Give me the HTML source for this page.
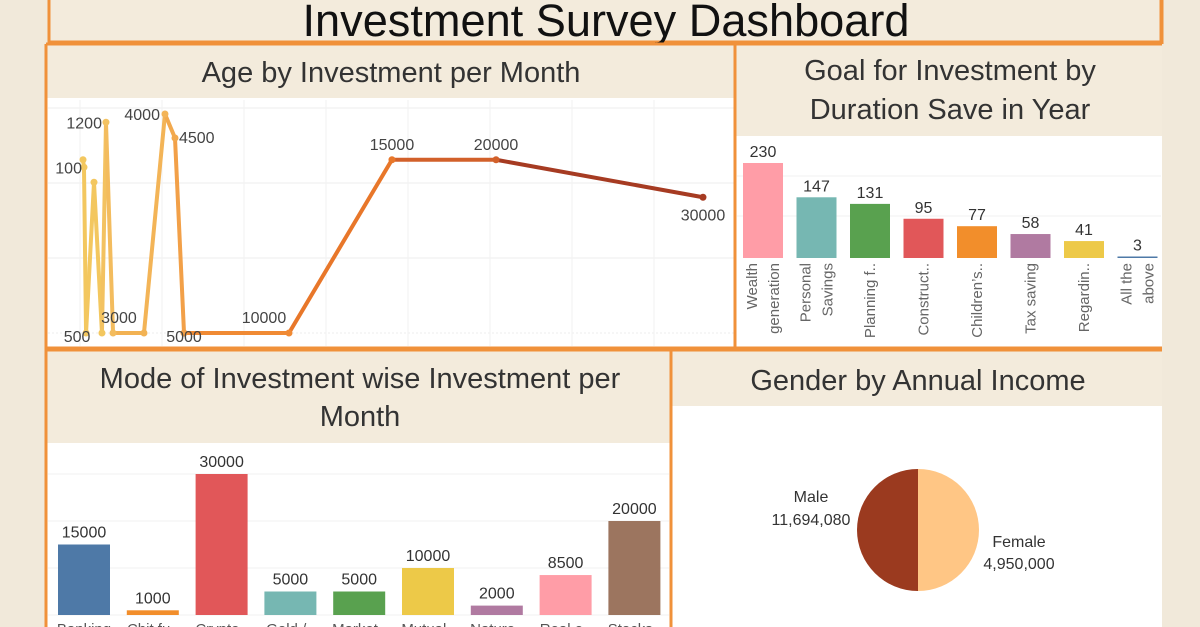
<!DOCTYPE html>
<html><head><meta charset="utf-8">
<style>
html,body{margin:0;padding:0;background:#f1e9da;}
svg{display:block;font-family:"Liberation Sans",sans-serif;}
</style></head>
<body>
<svg id="dash" width="1200" height="627" viewBox="0 0 1200 627" xmlns="http://www.w3.org/2000/svg">
  <rect x="0" y="0" width="1200" height="627" fill="#f1e9da"/>
  <g>
    <rect x="49" y="-3" width="1112" height="45" fill="#f3ebdc" stroke="#f0913a" stroke-width="3"/>
    <text x="606" y="36" text-anchor="middle" font-size="45" fill="#111" textLength="607" lengthAdjust="spacingAndGlyphs">Investment Survey Dashboard</text>
  </g>
  <g>
    <rect x="47" y="45" width="688" height="302" fill="#fff"/>
    <rect x="47" y="45" width="688" height="53" fill="#f3ebdc"/>
    <text x="391" y="82" text-anchor="middle" font-size="29" fill="#333">Age by Investment per Month</text>
    <g id="ageGrid"></g>
    <g id="ageLine"></g>
  </g>
  <g>
    <rect x="735" y="45" width="427" height="302" fill="#fff"/>
    <rect x="735" y="45" width="427" height="91" fill="#f3ebdc"/>
    <text x="950" y="80" text-anchor="middle" font-size="29" fill="#333">Goal for Investment by</text>
    <text x="950" y="119" text-anchor="middle" font-size="29" fill="#333">Duration Save in Year</text>
    <g id="goalBars"></g>
  </g>
  <g>
    <rect x="47" y="351" width="624" height="280" fill="#fff"/>
    <rect x="47" y="351" width="624" height="92" fill="#f3ebdc"/>
    <text x="360" y="388" text-anchor="middle" font-size="29" fill="#333">Mode of Investment wise Investment per</text>
    <text x="360" y="426" text-anchor="middle" font-size="29" fill="#333">Month</text>
    <g id="modeBars"></g>
  </g>
  <g>
    <rect x="672" y="352" width="490" height="280" fill="#fff"/>
    <rect x="672" y="352" width="490" height="54" fill="#f3ebdc"/>
    <text x="918" y="390" text-anchor="middle" font-size="29" fill="#333">Gender by Annual Income</text>
    <g id="pie"></g>
  </g>
  <g fill="none" stroke="#f0913a" stroke-width="3">
    <line x1="46" y1="44" x2="1162" y2="44"/>
    <line x1="46" y1="44" x2="46" y2="627"/>
    <line x1="735" y1="44" x2="735" y2="349"/>
    <line x1="1162" y1="0" x2="1162" y2="44"/>
    <line x1="46" y1="349" x2="1162" y2="349" stroke-width="5"/>
    <line x1="671" y1="349" x2="671" y2="627"/>
  </g>
</svg>
<script>
const NS='http://www.w3.org/2000/svg';
function mk(tag,attrs,parent,txt){const e=document.createElementNS(NS,tag);for(const k in attrs)e.setAttribute(k,attrs[k]);if(txt!==undefined)e.textContent=txt;parent.appendChild(e);return e;}

// ---- Age line chart data ----
const ageX=[1.79,1.9,2.13,3.02,3.91,4.36,5.15,8.61,10.96,12.08,13.09,24.83,36.35,47.99,71.14];
const ageY=[2.31,2.21,0,2.01,0,2.81,0,0,2.92,2.6,0,0,2.31,2.31,1.81];
const ageLabels=['','100','500','','','1200','','3000','4000','4500','5000','10000','15000','20000','30000'];
const ageGridY=[0,1,2,3];

// ---- Goal bar chart data ----
const goalCats=[['Wealth','generation'],['Personal','Savings'],['Planning f..'],['Construct..'],['Children\u2019s..'],['Tax saving'],['Regardin..'],['All the','above']];
const goalVals=[230,147,131,95,77,58,41,3];
const goalColors=['#ff9da7','#76b7b2','#59a14f','#e15759','#f28e2b','#b07aa1','#edc948','#4e79a7'];

// ---- Mode bar chart data ----
const modeCats=['Banking','Chit fu..','Crypto..','Gold /..','Market..','Mutual..','Nature..','Real e..','Stocks..'];
const modeVals=[15000,1000,30000,5000,5000,10000,2000,8500,20000];
const modeColors=['#4e79a7','#f28e2b','#e15759','#76b7b2','#59a14f','#edc948','#b07aa1','#ff9da7','#9c755f'];
const modeGrid=[0,10000,20000,30000];

// ---- Pie data ----
const pieCats=['Male','Female'];
const pieShares=[50,50];
const pieLabels=['11,694,080','4,950,000'];
const pieColors=['#9b3a1f','#ffc685'];

(function(){
  const gx=document.getElementById('ageGrid'), g=document.getElementById('ageLine');
  const xs=v=>67+v*8.94, ys=v=>333-v*75;
  for(const t of ageGridY){const l=mk('line',{x1:48,x2:734,y1:ys(t),y2:ys(t),stroke:'#ececec','stroke-width':1,'stroke-dasharray':t===0?'2,2':'none'},gx);
    
    }
  for(let i=0;i<8;i++){const l=mk('line',{x1:80+i*82,x2:80+i*82,y1:100,y2:346,stroke:'#f2f2f2'},gx);
    
    }
  const cols=['#f3c75f','#f3c75f','#f3c75f','#f3c75f','#f3c75f','#f3c261','#f3bc5e','#f2b253','#f3b457','#f2a94e','#f2a048','#f08a34','#e8772a','#d2602a','#a63b22'];
  for(let i=0;i<ageX.length-1;i++){
    const l=mk('line',{x1:xs(ageX[i]),y1:ys(ageY[i]),x2:xs(ageX[i+1]),y2:ys(ageY[i+1]),stroke:cols[i+1],'stroke-width':4,'stroke-linecap':'round'},g);
    
    
  }
  for(let i=0;i<ageX.length;i++){
    const c=mk('circle',{cx:xs(ageX[i]),cy:ys(ageY[i]),r:3.5,fill:cols[i]},g);
    
    
    if(ageLabels[i]){
      let x=xs(ageX[i]),y=ys(ageY[i]),a='middle',dy=-10;
      if(ageY[i]===0){dy=9;}
      if(ageY[i]===0 && ['3000','10000'].includes(ageLabels[i])){dy=-10;x-=25;}
      if(ageLabels[i]==='500'){x-=9;dy=9;}
      if(ageLabels[i]==='5000'){dy=9;}
      if(ageLabels[i]==='100'){a='end';x-=2;dy=6;}
      if(ageLabels[i]==='1200'){a='end';x-=4;dy=6;}
      if(ageLabels[i]==='4000'){a='end';x-=5;dy=6;}
      if(ageLabels[i]==='4500'){a='start';x+=4;dy=5;}
      if(ageLabels[i]==='30000'){dy=23;x+=0;}
      const t=mk('text',{x:x,y:y+dy,'text-anchor':a,'font-size':16,fill:'#444'},g,ageLabels[i]);
      
      
    }
  }
})();

(function(){
  const g=document.getElementById('goalBars');
  const base=258, k=95/230;
  for(const yy of [216,176]){const l=mk('line',{x1:737,x2:1161,y1:yy,y2:yy,stroke:'#f0f0f0'},g);
    
    }
  goalVals.forEach((v,i)=>{
    const x=743+i*53.5, w=40, h=Math.max(v*k,1.5);
    const r=mk('rect',{x:x,y:base-h,width:w,height:h,fill:goalColors[i]},g);
    
    
    const t=mk('text',{x:x+w/2,y:base-h-6,'text-anchor':'middle','font-size':16,fill:'#333'},g,String(v));
    
    
    const lines=goalCats[i];
    lines.forEach((s,j)=>{
      const cx=x+w/2+(lines.length===2?(j===0?-11:11):0)+5;
      const tt=mk('text',{x:0,y:0,'text-anchor':'end','font-size':15,fill:'#666',transform:'translate('+cx+',263) rotate(-90)'},g,s);
      
      
    });
  });
})();

(function(){
  const g=document.getElementById('modeBars');
  const base=615, k=141/30000;
  for(const t of modeGrid){const l=mk('line',{x1:48,x2:669,y1:base-t*k,y2:base-t*k,stroke:'#f0f0f0'},g);
    
    }
  modeVals.forEach((v,i)=>{
    const x=58+i*68.8, w=52, h=v*k;
    const r=mk('rect',{x:x,y:base-h,width:w,height:h,fill:modeColors[i]},g);
    
    
    const t=mk('text',{x:x+w/2,y:base-h-7,'text-anchor':'middle','font-size':16,fill:'#333'},g,String(v));
    
    
    const c=mk('text',{x:x+w/2,y:634,'text-anchor':'middle','font-size':15,fill:'#555'},g,modeCats[i]);
    
    
  });
})();

(function(){
  const g=document.getElementById('pie');
  const cx=918, cy=530, r=61;
  const tot=pieShares.reduce((a,b)=>a+b,0);
  let a0=Math.PI/2;
  pieShares.forEach((s,i)=>{
    const a1=a0+s/tot*2*Math.PI;
    const x0=cx+r*Math.cos(a0), y0=cy+r*Math.sin(a0), x1=cx+r*Math.cos(a1), y1=cy+r*Math.sin(a1);
    const large=(a1-a0)>Math.PI?1:0;
    const p=mk('path',{d:`M${cx},${cy} L${x0},${y0} A${r},${r} 0 ${large} 1 ${x1},${y1} Z`,fill:pieColors[i]},g);
    
    
    a0=a1;
  });
  const m1=mk('text',{x:811,y:502,'text-anchor':'middle','font-size':16,fill:'#333'},g,pieCats[0]);
  
  
  const m2=mk('text',{x:811,y:525,'text-anchor':'middle','font-size':16,fill:'#333'},g,pieLabels[0]);
  
  
  const f1=mk('text',{x:1019,y:547,'text-anchor':'middle','font-size':16,fill:'#333'},g,pieCats[1]);
  
  
  const f2=mk('text',{x:1019,y:569,'text-anchor':'middle','font-size':16,fill:'#333'},g,pieLabels[1]);
  
  
})();
</script>
</body></html>
